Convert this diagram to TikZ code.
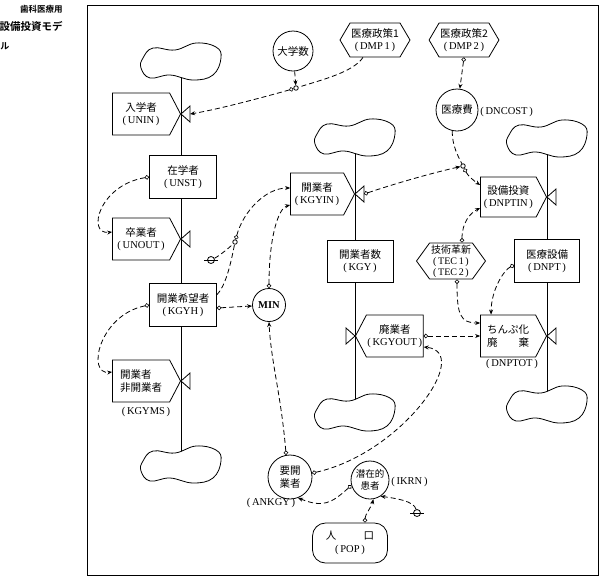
\documentclass[tikz,border=0pt]{standalone}
\usepackage{fontspec}
\setmainfont{Liberation Serif}
\newfontfamily\jp{Noto Sans CJK JP}
\newfontfamily\jpbold{Noto Sans CJK JP Bold}
\usetikzlibrary{arrows.meta,shapes.symbols}

\newcommand\sdlabel[2]{{\jp #1}\\(\,#2\,)}

\tikzset{
  sdfont/.style={font=\fontsize{10.5}{12.5}\selectfont},
  level/.style={sdfont, shape=rectangle, draw, fill=white, minimum width=67pt,
    minimum height=43pt, align=center, inner sep=1pt},
  rate/.style={sdfont, shape=signal, signal to=east, signal pointer angle=125,
    draw, fill=white, minimum width=68pt, minimum height=42pt, align=center, inner sep=1pt},
  policy/.style={sdfont, shape=signal, signal to=east and west, signal pointer angle=119,
    draw, fill=white, minimum width=70pt, minimum height=34pt, align=center, inner sep=1pt},
  aux/.style={sdfont, shape=circle, draw, fill=white, align=center, inner sep=0pt},
  junction/.style={shape=circle, draw, fill=white, inner sep=0pt, minimum size=4.5pt},
  constbox/.style={shape=circle, draw, fill=white, inner sep=0pt, minimum size=7pt},
  titletext/.style={font=\jpbold\fontsize{9}{11}\selectfont, inner sep=0pt},
  cloud/.pic={\draw[fill=white] plot[smooth cycle, tension=0.7] coordinates
    {(-38,-4) (-28,-14) (-6,-12) (15,-19) (35,-15) (40,-4) (32,13) (12,18) (-11,13) (-31,16) (-40,6)};}
}

\begin{document}
\begin{tikzpicture}[x=1pt, y=-1pt, line width=0.8pt,
  link/.style={dash pattern=on 5pt off 3pt, -{Stealth[length=5pt,width=4pt]}},
  info/.style={link, {Circle[open,length=4.5pt,width=4.5pt,line width=0.6pt]}-{Stealth[length=5pt,width=4pt]}}]

\useasboundingbox (0,0) rectangle (604,579);

% caption
\node[titletext, font=\jpbold\fontsize{8.5}{10}\selectfont, anchor=east] (title1) at (63,9) {歯科医療用};
\node[titletext, font=\jpbold\fontsize{10.5}{12}\selectfont, anchor=east] (title2) at (63,26) {設備投資モデ};
\node[titletext, anchor=west] (title3) at (0,46) {ル};

\draw[line width=1pt] (87,5) rectangle (598,575);

% flows, cloud to cloud
\coordinate (top1) at (181,62);  \coordinate (bot1) at (181,465);
\coordinate (top2) at (355,138); \coordinate (bot2) at (355,413);
\coordinate (top3) at (547,139); \coordinate (bot3) at (547,405);
\draw (top1) -- (bot1);
\draw (top2) -- (bot2);
\draw (top3) -- (bot3);
\foreach \c in {top1,bot1,top2,bot2,top3,bot3}
  \pic at (\c) {cloud};

% students / applicants
\node[rate, anchor=east] (unin) at (181,114) {\sdlabel{入学者}{UNIN}};
\node[level] (unst) at (183,177) {\sdlabel{在学者}{UNST}};
\node[rate, anchor=east] (unout) at (181,239) {\sdlabel{卒業者}{UNOUT}};
\node[level] (kgyh) at (183,305) {\sdlabel{開業希望者}{KGYH}};
\node[rate, anchor=east, align=left] (kgyms) at (181,381) {{\jp 開業者}\\{\jp 非開業者}};
\node[sdfont] (kgymsl) at (146,412) {(\,KGYMS\,)};

% practitioners
\node[rate, anchor=east, minimum width=64pt] (kgyin) at (355,194) {\sdlabel{開業者}{KGYIN}};
\node[level, minimum width=66pt, minimum height=42pt] (kgy) at (360,261) {\sdlabel{開業者数}{KGY}};
\node[rate, signal to=west, anchor=west, minimum width=67pt] (kgyout) at (355,336) {\sdlabel{廃業者}{KGYOUT}};

% equipment
\node[rate, anchor=east, minimum width=66pt, minimum height=40pt] (dnptin) at (547,197) {\sdlabel{設備投資}{DNPTIN}};
\node[level, minimum width=65pt] (dnpt) at (547,261) {\sdlabel{医療設備}{DNPT}};
\node[rate, anchor=east, minimum width=66pt] (dnptot) at (547,336) {{\jp ちんぷ化}\\{\jp 廃　　棄}};
\node[sdfont] (dnptotl) at (512,364) {(\,DNPTOT\,)};

% auxiliaries and policies
\node[aux, minimum size=40pt] (daigaku) at (293,51) {\jp 大学数};
\node[policy] (dmp1) at (375,40) {\sdlabel{医療政策1}{DMP\,1}};
\node[policy, minimum width=68pt] (dmp2) at (464,40) {\sdlabel{医療政策2}{DMP\,2}};
\node[aux, minimum size=42pt] (dncost) at (457,110) {\jp 医療費};
\node[sdfont, anchor=west, inner sep=0pt] (dncostl) at (480,112) {(\,DNCOST\,)};
\node[policy, minimum width=69pt, minimum height=36pt, signal pointer angle=108,
  font=\fontsize{10}{11}\selectfont, inner sep=0pt] (tec) at (451,261)
  {{\jp 技術革新}\\(\,TEC\,1\,)\\(\,TEC\,2\,)};
\node[aux, minimum size=33pt, font=\bfseries\fontsize{10.5}{12}\selectfont] (min) at (269,305) {MIN};
\node[aux, minimum size=44pt] (ankgy) at (290,477) {{\jp 要開}\\{\jp 業者}};
\node[sdfont] (ankgyl) at (271,503) {(\,ANKGY\,)};
\node[aux, minimum size=38pt, font=\fontsize{9.5}{11.5}\selectfont] (ikrn) at (370,480) {{\jp 潜在的}\\{\jp 患者}};
\node[sdfont, anchor=west, inner sep=0pt] (ikrnl) at (391,482) {(\,IKRN\,)};
\node[sdfont, shape=rectangle, rounded corners=13pt, draw, fill=white, minimum width=75pt,
  minimum height=40pt, align=center, inner sep=1pt] (pop) at (350,543)
  {{\jp 人\hspace{2.6em}口}\\(\,POP\,)};

% valves
\foreach \r in {unin,unout,kgyms,kgyin,dnptin,dnptot}{
  \draw[fill=white] (\r.east) -- ++(9,-8) -- ++(0,16) -- cycle;
  \coordinate (\r-v) at ([xshift=9pt]\r.east);
}
\draw[fill=white] (kgyout.west) -- ++(-9,-8) -- ++(0,16) -- cycle;

% junctions and constants
\node[junction] (j1) at (296,88) {};
\node[junction] (j2) at (235,242) {};
\node[junction] (j3) at (463,166) {};
\node[constbox] (c1) at (211,260) {};
\node[constbox] (c2) at (417,513) {};
\draw ([xshift=-7pt]c1.center) -- ([xshift=7pt]c1.center);
\draw ([xshift=-7pt]c2.center) -- ([xshift=7pt]c2.center);

% information links
\draw[link] (daigaku) -- (j1);
\draw[info] ([xshift=-12pt]dmp1.south) .. controls +(-10,15) and +(25,-8) .. (j1)
  .. controls +(-35,10) and +(25,-4) .. (unin-v);
\draw[info] (unst.west) .. controls +(-50,8) and +(-26,3) .. ([yshift=7pt]unout.west);
\draw[info] (kgyh.west) .. controls +(-50,10) and +(-26,3) .. ([yshift=9pt]kgyms.west);
\draw[info] ([yshift=-3pt]kgyh.east) -- (min);
\draw[info] (kgyh.17) .. controls +(10,-10) and +(-3,15) .. (j2)
  .. controls +(8,-30) and +(-25,0) .. ([yshift=6pt]kgyin.west);
\draw[dash pattern=on 5pt off 3pt] (c1) .. controls +(8,-4) and +(-6,6) .. (j2);
\draw[info] (min.north) .. controls +(0,-50) and +(-12,3) .. ([yshift=-11pt]kgyin.west);
\draw[info] (ankgy.100) .. controls +(-5,-60) and +(2,40) .. (min.south);
\draw[info] (ankgy.10) .. controls +(90,-20) and +(50,5) .. ([yshift=-11pt]kgyout.east);
\draw[info] (kgyout.east) -- (dnptot.west);
\draw[info] (ikrn.196) .. controls +(-20,18) and +(25,10) .. (ankgy.-69);
\draw[info] ([xshift=15pt]pop.north) .. controls +(0,-8) and +(-2,8) .. (ikrn.-80);
\draw[link] (c2) .. controls +(-3,-12) and +(15,2) .. (ikrn.-57);
\draw[info] (kgyin-v) .. controls +(30,-10) and +(-35,8) .. (j3);
\draw[info] (dncost.-103) .. controls +(0,15) and +(-5,-10) .. (j3)
  .. controls +(5,10) and +(-6,-4) .. ([yshift=12pt]dnptin.west);
\draw[info] (dmp2.south) -- (dncost);
\draw[info] ([xshift=11pt]tec.north) .. controls +(0,-20) and +(-10,5) .. ([yshift=-11pt]dnptin.west);
\draw[info] ([xshift=6pt]tec.south) .. controls +(0,35) and +(-20,0) .. ([yshift=13pt]dnptot.west);
\draw[info] ([yshift=-4pt]dnpt.west) .. controls +(-10,5) and +(0,-25) .. ([xshift=-17pt]dnptot.north);

\end{tikzpicture}
\end{document}
